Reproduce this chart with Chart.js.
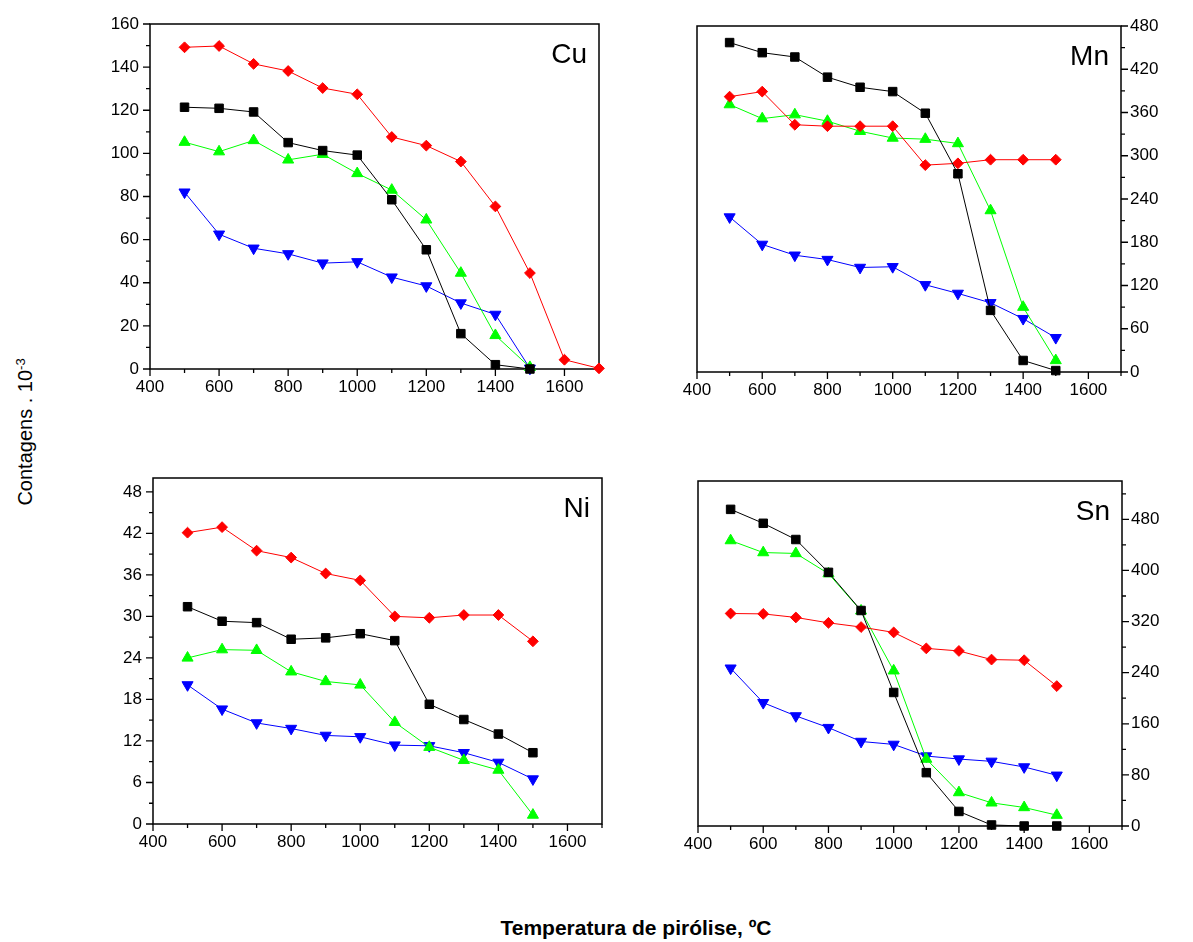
<!DOCTYPE html>
<html>
<head>
<meta charset="utf-8">
<script src="https://cdn.jsdelivr.net/npm/chart.js@4.4.0/dist/chart.umd.min.js"></script>
<style>
  body { margin: 0; background: #fff; width: 1193px; height: 942px; position: relative; overflow: hidden;
         font-family: Arial, "Liberation Sans", sans-serif; }
  canvas { position: absolute; }
  #ytitle { position: absolute; left: 25px; top: 432px; transform: translate(-50%, -50%) rotate(-90deg);
            font-size: 20px; white-space: nowrap; color: #000; }
  #ytitle sup { font-size: 13px; }
  #xtitle { position: absolute; left: 636px; top: 928px; transform: translate(-50%, -50%);
            font-size: 21px; font-weight: bold; white-space: nowrap; color: #000; }
</style>
</head>
<body>
<canvas id="cu" width="540" height="400" style="left:80px;top:0px"></canvas>
<canvas id="mn" width="553" height="400" style="left:640px;top:0px"></canvas>
<canvas id="ni" width="540" height="400" style="left:80px;top:460px"></canvas>
<canvas id="sn" width="553" height="400" style="left:640px;top:460px"></canvas>
<div id="ytitle">Contagens . 10<sup>-3</sup></div>
<div id="xtitle">Temperatura de pirólise, ºC</div>
<script>
// temperatures (ºC)
const temps = [500, 600, 700, 800, 900, 1000, 1100, 1200, 1300, 1400, 1500];
const tempsCuRed = [500, 600, 700, 800, 900, 1000, 1100, 1200, 1300, 1400, 1500, 1600, 1700];

// Cu
const cuBlack = [121.4, 120.9, 119.2, 105, 101.3, 99.2, 78.5, 55.3, 16.4, 2, 0];
const cuRed = [149.2, 149.8, 141.5, 138.2, 130.3, 127.4, 107.6, 103.6, 96.2, 75.4, 44.5, 4.3, 0.3];
const cuGreen = [105.2, 100.8, 106, 97, 99.6, 90.7, 83, 69.2, 44.5, 15.6, 0.8];
const cuBlue = [82, 62.5, 56, 53.4, 49.1, 49.7, 42.6, 38.5, 30.6, 25.3, 0.3];

// Mn
const mnBlack = [457, 443, 437, 409, 395, 389, 359, 275, 85.5, 16, 2];
const mnRed = [382, 389, 343, 341, 341, 341, 287, 289.5, 294.5, 294.5, 294.5];
const mnGreen = [371, 351.5, 357, 348, 334, 324.6, 323, 317, 224, 90, 16];
const mnBlue = [215, 177, 162, 156, 145, 146, 121, 109, 96, 74, 47.6];

// Ni
const niBlack = [31.4, 29.3, 29.1, 26.7, 26.9, 27.5, 26.5, 17.3, 15.1, 13, 10.3];
const niRed = [42.1, 42.9, 39.5, 38.5, 36.2, 35.2, 30, 29.8, 30.2, 30.2, 26.4];
const niGreen = [24, 25.2, 25.1, 22, 20.6, 20.1, 14.7, 11.1, 9.2, 7.8, 1.3];
const niBlue = [20.1, 16.6, 14.6, 13.8, 12.8, 12.6, 11.4, 11.3, 10.3, 8.9, 6.5];

// Sn
const snBlack = [495.6, 473.8, 448.4, 397, 337.3, 209, 83.5, 22.8, 1.6, 0, 0];
const snRed = [332.6, 332, 326.4, 318, 311.4, 303, 278, 274, 260.5, 259.5, 219];
const snGreen = [446.8, 428, 426.6, 395, 336.8, 243, 104.8, 52.4, 36.3, 29, 17];
const snBlue = [247, 193, 172.3, 154, 132.3, 127.7, 109.5, 104.8, 101.2, 92.4, 79.4];

const xMin = 400, xMax = 1700, xMinor = 100, xMajor = 200;

Chart.defaults.font.family = 'Arial, "Liberation Sans", sans-serif';
Chart.defaults.color = '#000';

// frame box + outward ticks (long for labelled values, short between)
const frameTicks = {
  id: 'frameTicks',
  beforeDatasetsDraw(chart) {
    const { ctx, chartArea: a, scales } = chart;
    ctx.save();
    ctx.strokeStyle = '#000';
    ctx.lineWidth = 1.5;
    ctx.strokeRect(a.left, a.top, a.right - a.left, a.bottom - a.top);
    ctx.lineWidth = 1.3;
    ctx.beginPath();
    scales.x.ticks.forEach((t) => {
      if (t.value % xMinor) return;
      const px = scales.x.getPixelForValue(t.value);
      const len = t.value % xMajor === 0 ? 7 : 4;
      ctx.moveTo(px, a.bottom);
      ctx.lineTo(px, a.bottom + len);
    });
    const y = scales.y;
    const step = y.options.ticks.stepSize;
    const right = y.options.position === 'right';
    y.ticks.forEach((t) => {
      if (t.value % step) return;
      const py = y.getPixelForValue(t.value);
      const len = t.value % (step * 2) === 0 ? 7 : 4;
      const x0 = right ? a.right : a.left;
      ctx.moveTo(x0, py);
      ctx.lineTo(right ? x0 + len : x0 - len, py);
    });
    ctx.stroke();
    ctx.restore();
  },
  afterDraw(chart) {
    const { ctx, chartArea: a } = chart;
    ctx.save();
    ctx.font = '28px Arial, "Liberation Sans", sans-serif';
    ctx.fillStyle = '#000';
    ctx.textAlign = 'right';
    ctx.textBaseline = 'alphabetic';
    ctx.fillText(chart.options.plugins.frameTicks.label, a.right - 12, a.top + 39);
    ctx.restore();
  }
};

function pts(xs, ys) {
  return ys.map((v, i) => ({ x: xs[i], y: v }));
}

function makeSet(data, color, style, radius, rotation) {
  return {
    data: data,
    borderColor: color,
    backgroundColor: color,
    borderWidth: 1,
    pointStyle: style,
    pointRadius: radius,
    pointRotation: rotation || 0,
    pointBorderWidth: 1,
    tension: 0,
    clip: false
  };
}

function makePanel(id, label, black, red, green, blue, redTemps, yMax, yStep, yPos, pad, yWidth, xHeight) {
  new Chart(document.getElementById(id), {
    type: 'line',
    data: {
      datasets: [
        makeSet(pts(temps, black), '#000000', 'rect', 6),
        makeSet(pts(redTemps, red), '#ff0000', 'rectRot', 5.4),
        makeSet(pts(temps, green), '#00ff00', 'triangle', 6.4),
        makeSet(pts(temps, blue), '#0000ff', 'triangle', 6.4, 180)
      ]
    },
    options: {
      responsive: false,
      animation: false,
      layout: { padding: pad },
      plugins: {
        legend: { display: false },
        tooltip: { enabled: false },
        frameTicks: { label: label }
      },
      scales: {
        x: {
          type: 'linear',
          min: xMin,
          max: xMax,
          grid: { display: false, drawTicks: true, tickLength: 7 },
          border: { display: false },
          ticks: {
            stepSize: xMinor,
            autoSkip: false,
            includeBounds: false,
            maxRotation: 0,
            padding: 1,
            font: { size: 17 },
            callback: (v) => (v % xMajor === 0 ? String(v) : '')
          },
          afterFit: (s) => { s.height = xHeight; }
        },
        y: {
          type: 'linear',
          position: yPos,
          min: 0,
          max: yMax,
          grid: { display: false, drawTicks: true, tickLength: 7 },
          border: { display: false },
          ticks: {
            stepSize: yStep,
            autoSkip: false,
            includeBounds: false,
            padding: yPos === 'right' ? 2 : 4,
            font: { size: 17 },
            callback: (v) => (v % (yStep * 2) === 0 ? String(v) : '')
          },
          afterFit: (s) => { s.width = yWidth; }
        }
      }
    },
    plugins: [frameTicks]
  });
}

makePanel('cu', 'Cu', cuBlack, cuRed, cuGreen, cuBlue, tempsCuRed, 160, 10, 'left',
  { left: 0, right: 21, top: 24, bottom: 0 }, 70, 31);
makePanel('mn', 'Mn', mnBlack, mnRed, mnGreen, mnBlue, temps, 480, 30, 'right',
  { left: 57, right: 0, top: 26, bottom: 0 }, 72, 28);
makePanel('ni', 'Ni', niBlack, niRed, niGreen, niBlue, temps, 50, 3, 'left',
  { left: 0, right: 18, top: 18, bottom: 0 }, 73, 36);
makePanel('sn', 'Sn', snBlack, snRed, snGreen, snBlue, temps, 540, 40, 'right',
  { left: 58, right: 0, top: 21, bottom: 0 }, 71, 34);
</script>
</body>
</html>
